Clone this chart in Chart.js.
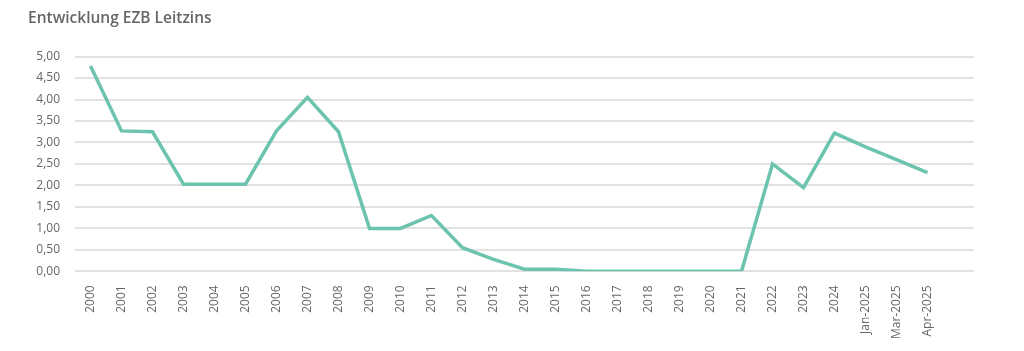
<!DOCTYPE html>
<html>
<head>
<meta charset="utf-8">
<script src="https://cdn.jsdelivr.net/npm/chart.js@4"></script>
<style>
  body { margin: 0; background: #fff; }
  #wrap { width: 1024px; height: 351px; }
</style>
</head>
<body>
<div id="wrap"><canvas id="leitzins"></canvas></div>
<script>
// Jahre / Monate auf der x-Achse (letzte Kategorie bleibt leer)
const labels = ['2000','2001','2002','2003','2004','2005','2006','2007','2008','2009',
  '2010','2011','2012','2013','2014','2015','2016','2017','2018','2019','2020','2021',
  '2022','2023','2024','Jan-2025','Mar-2025','Apr-2025','']

// Leitzins in %
const leitzins = [4.78, 3.27, 3.25, 2.03, 2.03, 2.03, 3.27, 4.05, 3.25, 1.00,
  1.00, 1.30, 0.55, 0.28, 0.05, 0.05, 0.00, 0.00, 0.00, 0.00, 0.00, 0.00,
  2.50, 1.95, 3.22, 2.90, 2.60, 2.30, null]

const yTicks = { min: 0, max: 5, step: 0.5 }

Chart.defaults.font.family = "'Open Sans', sans-serif"
Chart.defaults.color = '#666'

const ctx = document.getElementById('leitzins').getContext('2d')
const chartLeitzins = new Chart(ctx, {
  type: 'line',
  data: {
    labels: labels,
    datasets: [{
      label: 'EZB Leitzins',
      data: leitzins,
      borderColor: '#6cc4ae',
      borderWidth: 3.5,
      pointRadius: 0,
      fill: false,
      tension: 0
    }]
  },
  options: {
    responsive: true,
    maintainAspectRatio: false,
    animation: false,
    layout: { padding: { left: 28, right: 50, top: 9, bottom: 6 } },
    plugins: {
      legend: { display: false },
      tooltip: { enabled: false },
      title: {
        display: true,
        text: 'Entwicklung EZB Leitzins',
        align: 'start',
        color: '#666',
        font: { size: 15.5, weight: '600' },
        padding: { top: 0, bottom: 29 }
      }
    },
    scales: {
      x: {
        offset: true,
        grid: { display: false },
        border: { display: false },
        ticks: {
          autoSkip: false,
          maxRotation: 90,
          minRotation: 90,
          padding: 6,
          color: '#666',
          font: { size: 12 }
        }
      },
      y: {
        min: yTicks.min,
        max: yTicks.max,
        border: { display: false },
        grid: { color: '#e2e2e2', lineWidth: 2, drawTicks: false },
        afterFit: axis => { axis.width = 47 },
        ticks: {
          stepSize: yTicks.step,
          padding: 15,
          color: '#666',
          font: { size: 12 },
          callback: v => v.toFixed(2).replace('.', ',')
        }
      }
    }
  }
})
</script>
</body>
</html>
